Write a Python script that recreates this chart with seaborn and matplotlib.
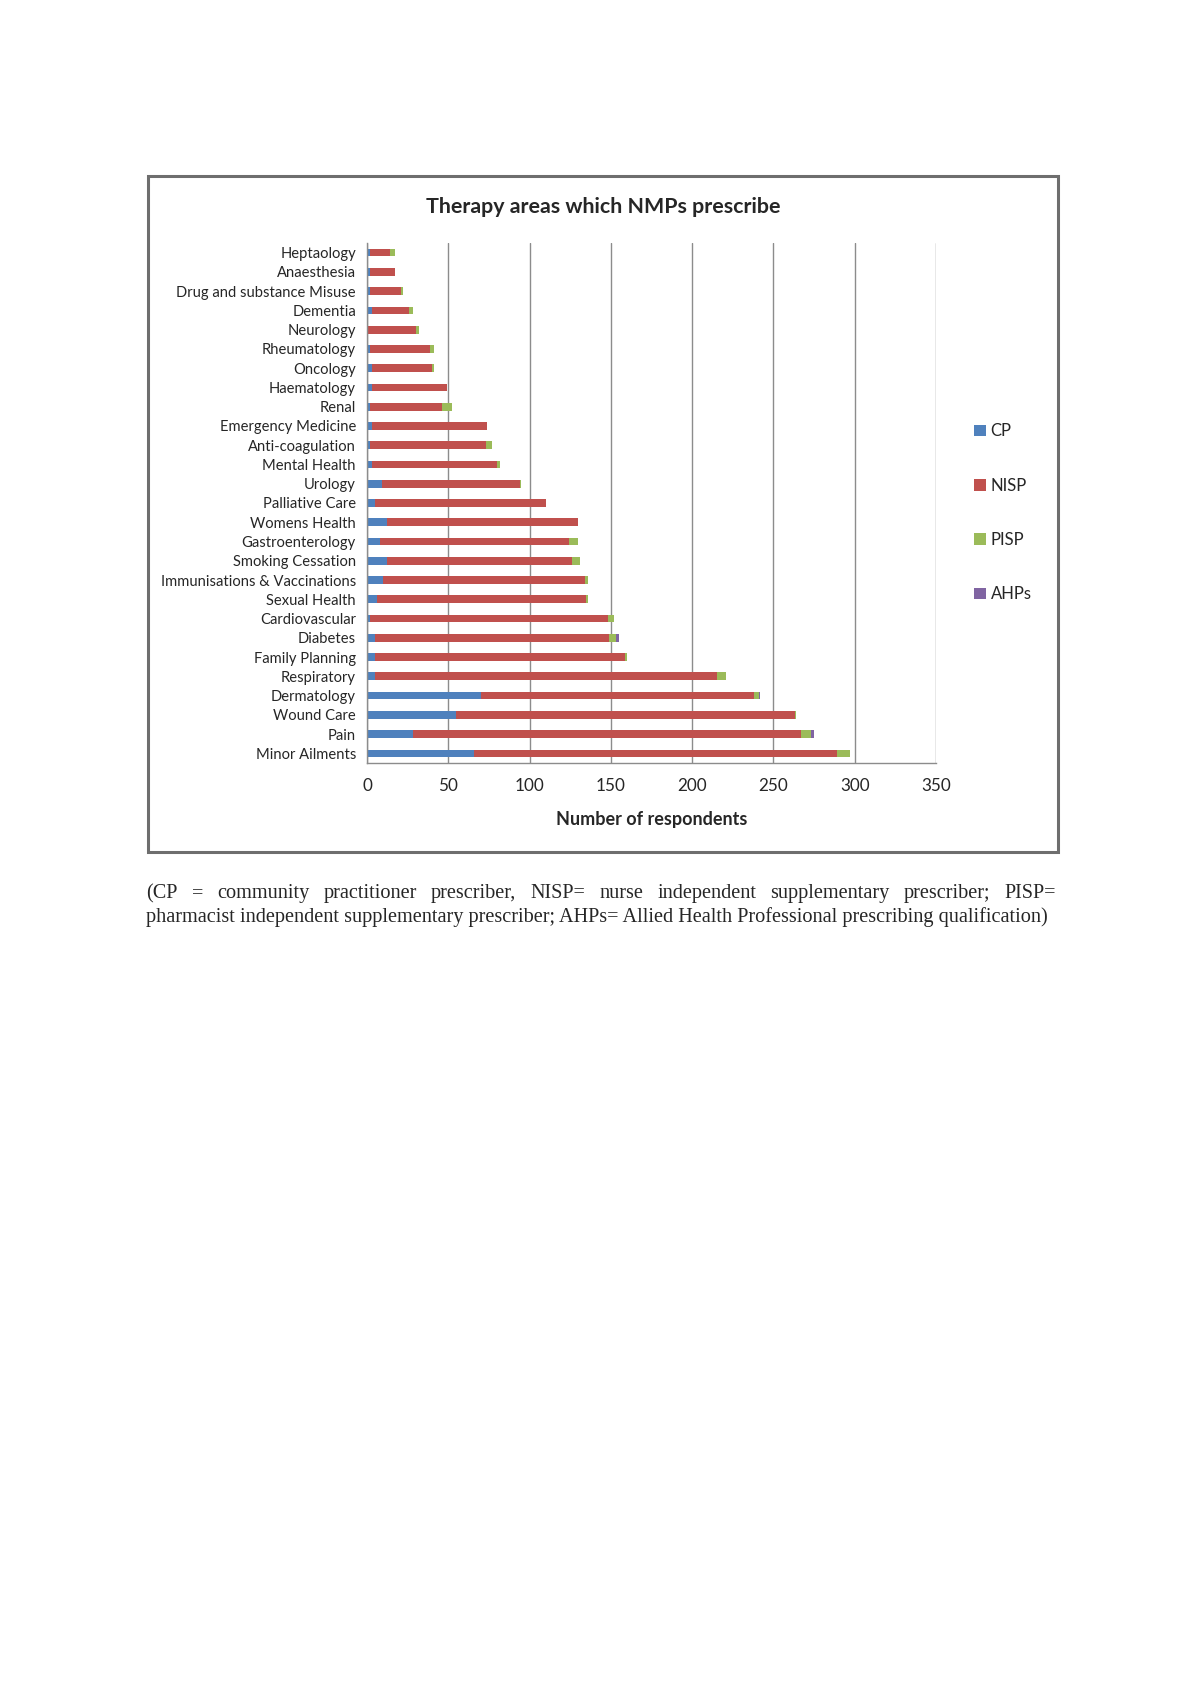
import numpy as np
import pandas as pd
import matplotlib
matplotlib.use("Agg")
import matplotlib.pyplot as plt
import seaborn as sns
from matplotlib.patches import Patch, Rectangle

# Therapy areas (top to bottom as drawn)
areas = ["Heptaology", "Anaesthesia", "Drug and substance Misuse", "Dementia",
         "Neurology", "Rheumatology", "Oncology", "Haematology", "Renal",
         "Emergency Medicine", "Anti-coagulation", "Mental Health", "Urology",
         "Palliative Care", "Womens Health", "Gastroenterology",
         "Smoking Cessation", "Immunisations & Vaccinations", "Sexual Health",
         "Cardiovascular", "Diabetes", "Family Planning", "Respiratory",
         "Dermatology", "Wound Care", "Pain", "Minor Ailments"]

cp = [2, 2, 2, 3, 0, 2, 3, 3, 2, 3, 2, 3, 9, 5, 12, 8, 12, 10, 6,
      2, 5, 5, 5, 70, 55, 28, 66]
nisp = [12, 15, 19, 23, 30, 37, 37, 46, 44, 71, 71, 77, 85, 105, 118, 116, 114, 124, 129,
        146, 144, 154, 210, 168, 208, 239, 223]
pisp = [3, 0, 1, 2, 2, 2, 1, 0, 6, 0, 4, 2, 1, 0, 0, 6, 5, 2, 1,
        4, 4, 1, 6, 3, 1, 6, 8]
ahps = [0, 0, 0, 0, 0, 0, 0, 0, 0, 0, 0, 0, 0, 0, 0, 0, 0, 0, 0,
        0, 2, 0, 0, 1, 0, 2, 0]

series = ["CP", "NISP", "PISP", "AHPs"]
colors = ["#4F81BD", "#C0504D", "#9BBB59", "#8064A2"]

df = pd.DataFrame({"area": areas, "CP": cp, "NISP": nisp, "PISP": pisp, "AHPs": ahps})
cum = df[series].cumsum(axis=1)

sns.set_style("white")
plt.rcParams["font.family"] = ["Lato", "DejaVu Sans"]

W, H = 1200, 1698
fig = plt.figure(figsize=(W / 100, H / 100), dpi=100)

# chart frame
fig.patches.append(Rectangle((148 / W, 1 - 852 / H), 910 / W, 676 / H,
                             transform=fig.transFigure, fill=False,
                             edgecolor="#6e6e6e", linewidth=2.2, zorder=0))

ax = fig.add_axes([367 / W, 1 - 763 / H, 569 / W, 520 / H])

# stacked bars: draw cumulative totals from largest to smallest
for name, col in reversed(list(zip(series, colors))):
    sns.barplot(x=cum[name], y=df["area"], orient="h", color=col,
                width=0.4, errorbar=None, ax=ax, saturation=1, linewidth=0)

ax.set_xlim(0, 350)
ax.set_ylim(len(areas) - 0.5, -0.5)
ax.set_xticks(np.arange(0, 351, 50))
ax.xaxis.grid(True, color="#8c8c8c", linewidth=1)
ax.set_axisbelow(True)
ax.set_ylabel("")
ax.set_xlabel("Number of respondents", fontsize=13, fontweight="bold", labelpad=12)

for s in ["top", "right"]:
    ax.spines[s].set_visible(False)
for s in ["left", "bottom"]:
    ax.spines[s].set_color("#8c8c8c")
    ax.spines[s].set_linewidth(1)

ax.tick_params(axis="y", which="major", length=0, labelsize=10.6, pad=8)
ax.set_yticks(np.arange(len(areas) + 1) - 0.5, minor=True)
ax.tick_params(axis="y", which="minor", length=5, color="#8c8c8c", direction="out")
ax.tick_params(axis="x", length=5, color="#8c8c8c", direction="out", labelsize=12.3, pad=6)

fig.text(603 / W, 1 - 207 / H, "Therapy areas which NMPs prescribe",
         ha="center", va="center", fontsize=15.4, fontweight="bold")

handles = [Patch(facecolor=c, edgecolor="none", label=s) for s, c in zip(series, colors)]
fig.legend(handles=handles, loc="center left", bbox_to_anchor=(974 / W, 1 - 513 / H),
           frameon=False, fontsize=12, handlelength=0.7, handleheight=0.7,
           handletextpad=0.3, labelspacing=2.3, borderpad=0, borderaxespad=0)

# caption below the chart (first line justified)
line1 = "(CP = community practitioner prescriber, NISP= nurse independent supplementary prescriber; PISP="
line2 = "pharmacist independent supplementary prescriber; AHPs= Allied Health Professional prescribing qualification)"
serif = ["Liberation Serif", "DejaVu Serif"]
renderer = fig.canvas.get_renderer()

probe = fig.text(0, 0, line2, fontsize=12, family=serif)
w2 = probe.get_window_extent(renderer).width
probe.remove()
fs = 12 * 899 / w2

x_left, x_right = 146, 1056
words = line1.split(" ")
widths = []
for wd in words:
    t = fig.text(0, 0, wd, fontsize=fs, family=serif)
    widths.append(t.get_window_extent(renderer).width)
    t.remove()
gap = (x_right - x_left - sum(widths)) / (len(words) - 1)
x = x_left
for wd, wdt in zip(words, widths):
    fig.text(x / W, 1 - 894 / H, wd, fontsize=fs, family=serif, va="center", ha="left")
    x += wdt + gap
fig.text(x_left / W, 1 - 917 / H, line2, fontsize=fs, family=serif, va="center", ha="left")

fig.savefig("out.png", dpi=100)
